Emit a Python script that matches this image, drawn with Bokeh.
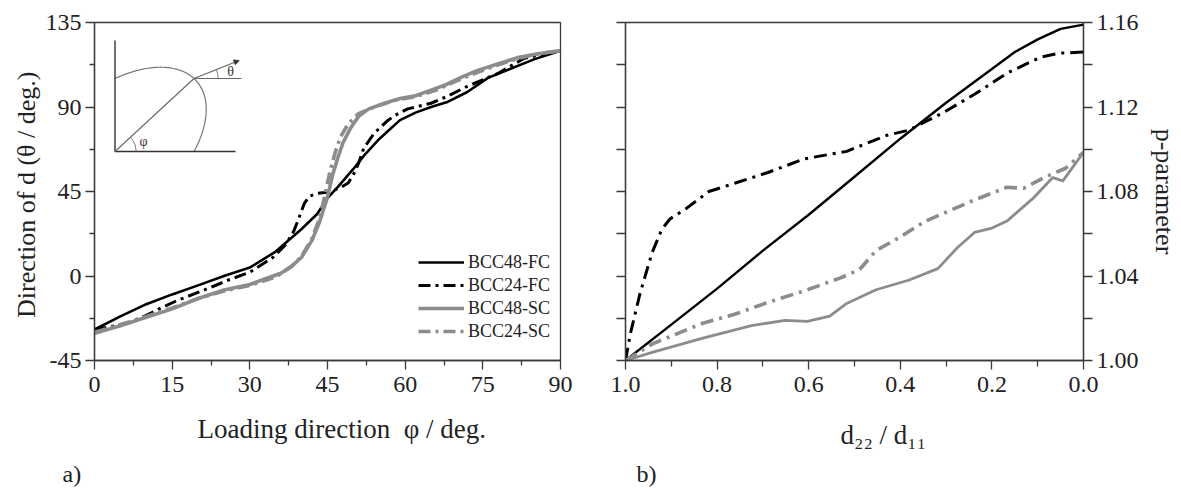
import math
from bokeh.plotting import figure
from bokeh.layouts import row
from bokeh.models import (Range1d, LinearAxis, FixedTicker, Legend, LegendItem,
                          Title, Arrow, NormalHead, CustomJSTickFormatter,
                          NumeralTickFormatter)
from bokeh.embed import file_html
from bokeh.resources import INLINE
from bokeh.core.properties import value

FONT = "Liberation Serif"
BLACK = "#000000"
GRAY = "#8c8c8c"
AXIS = "#3a3a3a"
TXT = "#222222"

# ---------------- panel a) data ----------------
phi_48fc = [0, 5, 10, 15, 20, 25, 30, 35, 40, 43, 45, 47, 50, 52, 55, 57, 59, 62, 65, 68, 72, 76, 80, 85, 90]
th_48fc = [-28.5, -21.5, -15, -9.8, -5, 0, 4.5, 13, 25, 33, 41.5, 47.5, 57, 64, 73, 78, 83, 87, 90, 92.5, 98, 105.5, 110, 115.5, 120]

phi_24fc = [0, 3, 6.5, 10, 13, 16, 19.5, 22.5, 26, 30, 34.5, 37, 38.5, 39.5, 40.5, 41.5, 43, 44.5, 46, 47.5, 49, 50, 51, 52, 54, 56.5, 58, 60.5, 65, 68, 72, 78, 83, 90]
th_24fc = [-28.5, -27, -25, -21, -16.8, -13, -9.3, -6, -2, 2, 10, 17, 24, 31, 38.5, 42.5, 44, 44.5, 45.5, 47, 49.5, 54, 60, 68, 76, 82.5, 85.5, 89, 92, 95.5, 101, 108, 116, 120]

phi_48sc = [0, 5, 10, 15, 20, 25, 30, 33, 36, 38, 40, 42, 43.5, 45, 46, 47, 48, 49.5, 51, 53, 56, 59, 62, 65, 68, 71, 74, 78, 82, 86, 90]
th_48sc = [-30.5, -26.5, -22, -17.5, -12, -7.5, -4.5, -1.5, 1.5, 5, 10, 19, 29, 42, 54, 63, 71, 79, 85, 89, 92, 94.5, 96, 99, 102, 106, 109.5, 113, 116.5, 118.5, 120]

phi_24sc = [0, 5, 10, 15, 20, 25, 30, 35, 38, 40, 42, 43.5, 44.5, 45.5, 46.5, 47.5, 49, 51, 54, 58, 62, 66, 70, 74, 78, 82, 86, 90]
th_24sc = [-30, -26, -21.5, -17, -12, -8, -5, -0.5, 5, 10.5, 20, 31, 43, 56, 66, 74, 81, 86.5, 90, 93.5, 95.5, 99, 104, 108.5, 112.5, 116, 118.5, 120]

# ---------------- panel b) data ----------------
r_48fc = [1.0, 0.9, 0.8, 0.7, 0.6, 0.5, 0.4, 0.3, 0.2, 0.15, 0.1, 0.05, 0.0]
p_48fc = [1.000, 1.017, 1.034, 1.052, 1.069, 1.087, 1.105, 1.122, 1.138, 1.146, 1.152, 1.157, 1.159]

r_24fc = [1.0, 0.989, 0.968, 0.942, 0.921, 0.903, 0.867, 0.818, 0.76, 0.689, 0.609, 0.517, 0.431, 0.382, 0.309, 0.238, 0.167, 0.094, 0.052, 0.0]
p_24fc = [1.000, 1.013, 1.032, 1.051, 1.062, 1.067, 1.072, 1.080, 1.084, 1.089, 1.0955, 1.099, 1.1065, 1.109, 1.117, 1.126, 1.136, 1.1436, 1.1455, 1.146]

r_48sc = [1.0, 0.94, 0.833, 0.725, 0.652, 0.603, 0.554, 0.517, 0.453, 0.382, 0.318, 0.275, 0.238, 0.202, 0.167, 0.109, 0.067, 0.045, 0.0]
p_48sc = [1.000, 1.004, 1.0105, 1.0165, 1.019, 1.0185, 1.021, 1.027, 1.0335, 1.038, 1.0435, 1.0535, 1.0606, 1.0625, 1.066, 1.077, 1.0866, 1.085, 1.0985]

r_24sc = [1.0, 0.94, 0.833, 0.76, 0.689, 0.609, 0.532, 0.489, 0.453, 0.4, 0.345, 0.238, 0.167, 0.131, 0.082, 0.039, 0.0]
p_24sc = [1.000, 1.008, 1.0175, 1.022, 1.0275, 1.033, 1.039, 1.043, 1.052, 1.0585, 1.066, 1.076, 1.082, 1.0815, 1.087, 1.091, 1.0985]

series_names = ["BCC48-FC", "BCC24-FC", "BCC48-SC", "BCC24-SC"]

a_xticks = [0, 15, 30, 45, 60, 75, 90]
a_xminor = [7.5, 22.5, 37.5, 52.5, 67.5, 82.5]
a_yticks = [-45, 0, 45, 90, 135]
a_yminor = [-22.5, 22.5, 67.5, 112.5]
b_xticks = [0.0, 0.2, 0.4, 0.6, 0.8, 1.0]
b_xminor = [0.1, 0.3, 0.5, 0.7, 0.9]
b_yticks = [1.00, 1.04, 1.08, 1.12, 1.16]
b_yminor = [1.02, 1.06, 1.10, 1.14]

a_ylabel = "Direction of d  (θ / deg.)"
a_xlabel = "Loading direction \u00a0φ / deg."
b_xlabel = "d₂₂ / d₁₁"
b_ylabel = "p-parameter"

DASHDOT = "12 5 3 5"


def style_axis(ax, major_out=8, minor_out=5, standoff=4):
    ax.axis_line_color = AXIS
    ax.axis_line_width = 1.3
    ax.major_tick_line_color = AXIS
    ax.minor_tick_line_color = AXIS
    ax.major_tick_line_width = 1.3
    ax.minor_tick_line_width = 1.3
    ax.major_tick_in = 0
    ax.major_tick_out = major_out
    ax.minor_tick_in = 0
    ax.minor_tick_out = minor_out
    ax.major_label_text_font = FONT
    ax.major_label_text_font_size = "24px"
    ax.major_label_text_color = TXT
    ax.major_label_standoff = standoff
    ax.axis_label_text_font = FONT
    ax.axis_label_text_font_size = "26px"
    ax.axis_label_text_font_style = "normal"
    ax.axis_label_text_color = TXT


def title(p, text, offset, standoff, size="26px", place="below"):
    t = Title(text=text, align="left", offset=offset, standoff=standoff,
              text_font=FONT, text_font_size=size, text_font_style="normal",
              text_color=TXT, vertical_align="bottom")
    p.add_layout(t, place)


# ================= panel a =================
p1 = figure(width=590, height=488, x_range=Range1d(0, 90), y_range=Range1d(-45, 135),
            output_backend="svg", toolbar_location=None,
            min_border_left=94, min_border_right=30, min_border_top=22, min_border_bottom=128)
p1.xgrid.visible = False
p1.ygrid.visible = False
p1.outline_line_color = AXIS
p1.outline_line_width = 1.3
p1.background_fill_color = "white"
p1.border_fill_color = "white"

p1.xaxis.ticker = FixedTicker(ticks=a_xticks, minor_ticks=a_xminor)
p1.yaxis.ticker = FixedTicker(ticks=a_yticks, minor_ticks=a_yminor)
p1.xaxis.formatter = NumeralTickFormatter(format="0")
p1.yaxis.formatter = NumeralTickFormatter(format="0")
style_axis(p1.xaxis[0], 9, 5, 7)
style_axis(p1.yaxis[0], 9, 5, 4)
p1.yaxis.axis_label = a_ylabel
p1.yaxis.axis_label_standoff = 2

r1 = p1.line(phi_48fc, th_48fc, line_color=BLACK, line_width=2.6, line_join="round")
r2 = p1.line(phi_24fc, th_24fc, line_color=BLACK, line_width=3.0, line_dash=DASHDOT, line_join="round")
r3 = p1.line(phi_48sc, th_48sc, line_color=GRAY, line_width=3.6, line_join="round")
r4 = p1.line(phi_24sc, th_24sc, line_color=GRAY, line_width=3.6, line_dash=DASHDOT, line_join="round")

legend = Legend(items=[LegendItem(label=n, renderers=[r]) for n, r in zip(series_names, [r1, r2, r3, r4])],
                location=(324, 18), padding=0, margin=0, spacing=1,
                glyph_width=46, glyph_height=22, label_height=22, label_standoff=4,
                label_text_font=FONT, label_text_font_size="18px", label_text_color=TXT,
                border_line_alpha=0, background_fill_alpha=0)
p1.add_layout(legend)

# ---- inset schematic (local units -> data units of panel a) ----
ix0, iy0, isx, isy = 3.96, 66.3, 15.26, 38.87
PXX, PXY = 79.0, 73.0  # pixels per local unit (for circular arcs)


def tx(u):
    return [ix0 + v * isx for v in u]


def ty(u):
    return [iy0 + v * isy for v in u]


ts = [math.radians(-60 + i) for i in range(121)]
ell_x = [math.cos(t) + math.sin(t) / math.sqrt(3) for t in ts]
ell_y = [math.cos(t) - math.sin(t) / math.sqrt(3) for t in ts]
p1.line(tx(ell_x), ty(ell_y), line_color="#777777", line_width=1.2)
p1.line(tx([0, 0, 1.525]), ty([1.52, 0, 0]), line_color="#333333", line_width=1.4)
p1.line(tx([0, 1.0]), ty([0, 1.0]), line_color="#666666", line_width=1.1)
p1.line(tx([1.0, 1.6]), ty([1.0, 1.0]), line_color="#666666", line_width=1.1)
p1.add_layout(Arrow(end=NormalHead(size=5, fill_color="#333333", line_color="#333333"),
                    x_start=tx([1.0])[0], y_start=ty([1.0])[0],
                    x_end=tx([1.57])[0], y_end=ty([1.247])[0],
                    line_color="#666666", line_width=1.1))
ang_t = math.atan2(18, 45)
arc_t = [ang_t * i / 20 for i in range(21)]
p1.line(tx([1.0 + 24 * math.cos(a) / PXX for a in arc_t]), ty([1.0 + 24 * math.sin(a) / PXY for a in arc_t]),
        line_color="#666666", line_width=1.0)
ang_p = math.atan2(73, 78.5)
arc_p = [ang_p * i / 20 for i in range(21)]
p1.line(tx([21 * math.cos(a) / PXX for a in arc_p]), ty([21 * math.sin(a) / PXY for a in arc_p]),
        line_color="#666666", line_width=1.0)
p1.text(x=tx([1.462, 0.36]), y=ty([1.096, 0.14]), text=["θ", "φ"], text_font=value(FONT),
        text_font_size="14px", text_color="#333333", text_align="center", text_baseline="middle")

title(p1, a_xlabel, 103, 34, size="27px")
title(p1, "a)", -32, -4, size="24px")

# ================= panel b =================
p2 = figure(width=591, height=488, x_range=Range1d(1.0, 0.0), y_range=Range1d(1.0, 1.16),
            output_backend="svg", toolbar_location=None, y_axis_location="right",
            min_border_left=35, min_border_right=90, min_border_top=22, min_border_bottom=128)
p2.xgrid.visible = False
p2.ygrid.visible = False
p2.outline_line_color = AXIS
p2.outline_line_width = 1.3
p2.background_fill_color = "white"
p2.border_fill_color = "white"

p2.xaxis.ticker = FixedTicker(ticks=b_xticks, minor_ticks=b_xminor)
p2.xaxis.formatter = NumeralTickFormatter(format="0.0")
p2.yaxis.ticker = FixedTicker(ticks=b_yticks, minor_ticks=b_yminor)
p2.yaxis.formatter = NumeralTickFormatter(format="0.00")
style_axis(p2.xaxis[0], 9, 6, 7)
style_axis(p2.yaxis[0], 9, 9, 4)
p2.yaxis.axis_label = b_ylabel
p2.yaxis.axis_label_standoff = 8

left_ax = LinearAxis(ticker=FixedTicker(ticks=b_yticks, minor_ticks=b_yminor),
                     formatter=CustomJSTickFormatter(code="return ''"))
style_axis(left_ax, 9, 9)
p2.add_layout(left_ax, "left")

p2.line(r_48fc, p_48fc, line_color=BLACK, line_width=2.4, line_join="round")
p2.line(r_24fc, p_24fc, line_color=BLACK, line_width=3.0, line_dash="13 6 3 6", line_join="round")
p2.line(r_48sc, p_48sc, line_color=GRAY, line_width=2.8, line_join="round")
p2.line(r_24sc, p_24sc, line_color=GRAY, line_width=3.6, line_dash="13 6 3 6", line_join="round")

title(p2, b_xlabel, 215, 46, size="27px")
title(p2, "b)", 11, -28, size="24px")

layout = row(p1, p2)
with open("out.html", "w") as f:
    f.write(file_html(layout, INLINE))
